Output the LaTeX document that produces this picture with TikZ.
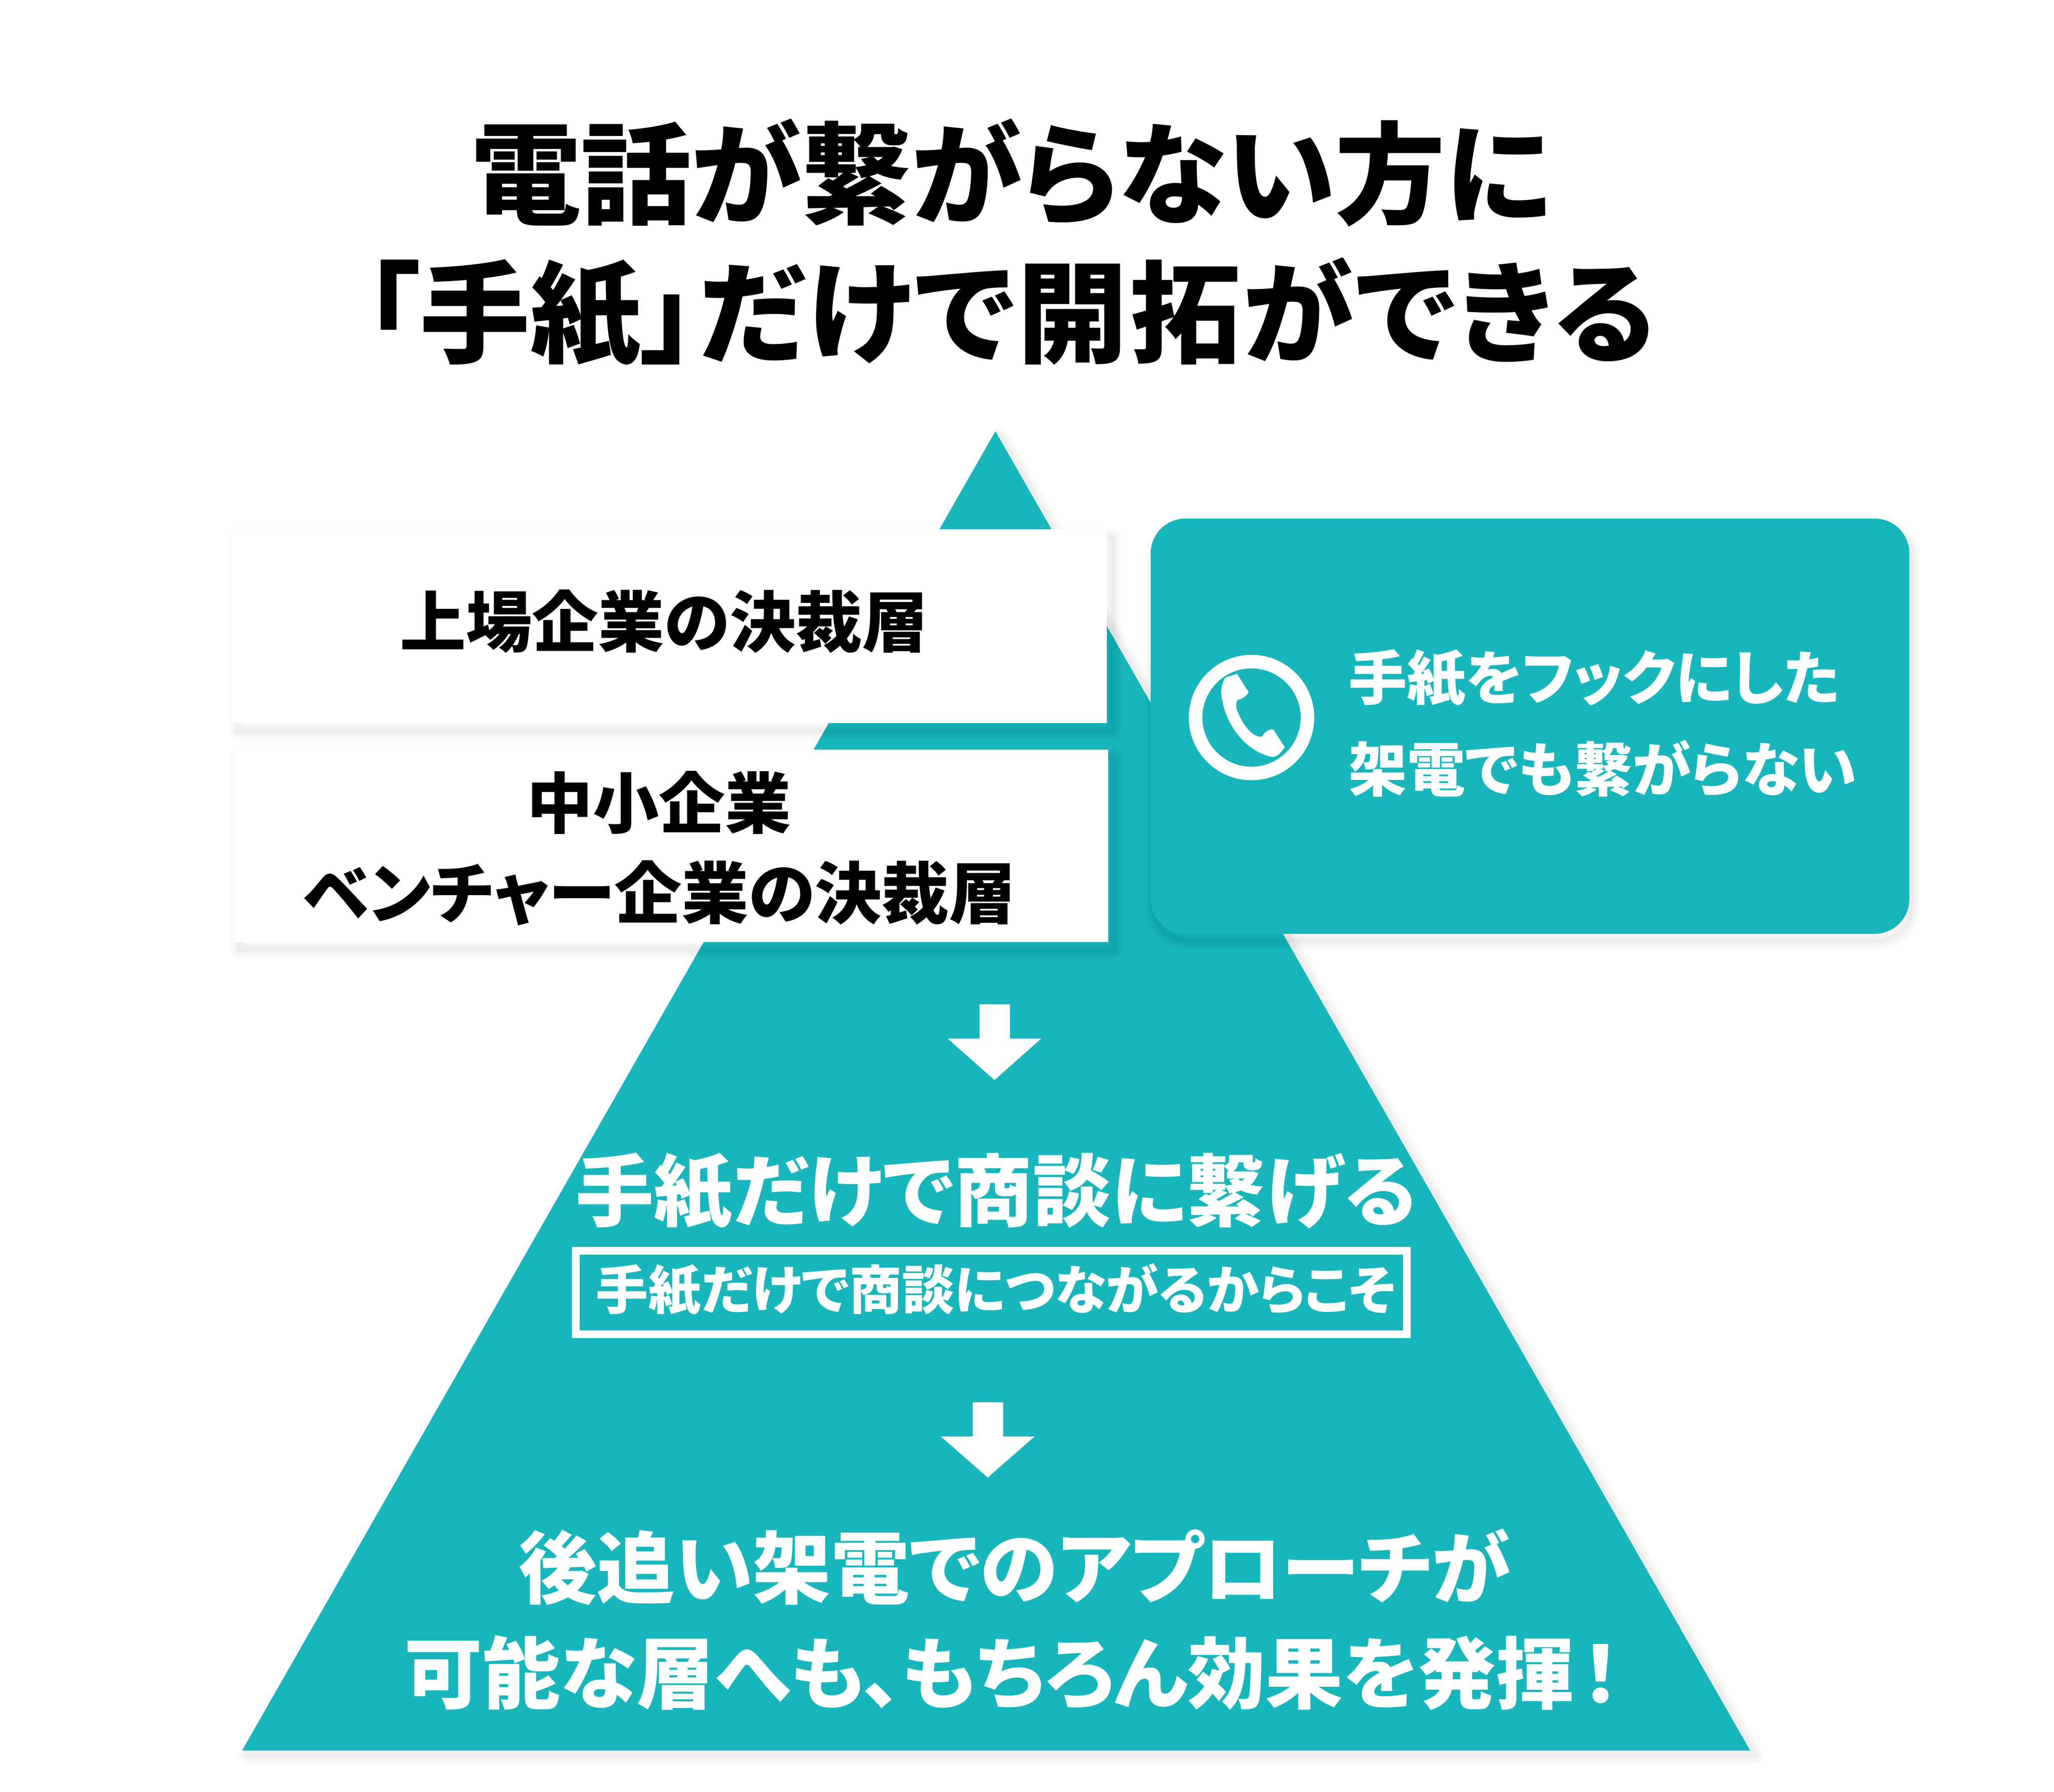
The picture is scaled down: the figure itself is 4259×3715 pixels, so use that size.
\documentclass[tikz,border=0pt]{standalone}
\usepackage{fontspec}
\newfontfamily\jpb[RawFeature=+palt]{Noto Sans CJK JP Black}
\definecolor{teal1}{HTML}{18B6BB}
\newcommand{\fs}[1]{\fontsize{#1pt}{#1pt}\selectfont}
\tikzset{
  txt/.style={inner sep=0pt,font=\jpb,text=black,anchor=center},
  wtxt/.style={txt,text=white},
  teal shape/.style={fill=teal1,draw=none},
  white shape/.style={fill=white,draw=none},
  glow/.style={draw=black,draw opacity=0.009,line join=round,fill=none},
}
\newcommand{\softshadow}[2]{%
  \begin{scope}[shift={(#1)}]
  \foreach \i in {2,6,...,38}{\draw[glow,line width=\i pt] #2;}
  \end{scope}}
\begin{document}
\begin{tikzpicture}[x=1pt,y=-1pt]
\useasboundingbox (0,0) rectangle (4259,3715);
\fill[white] (0,0) rectangle (4259,3715);
% pyramid
\softshadow{10,10}{(2064,894) -- (3629,3629) -- (502,3629) -- cycle}
\path[teal shape] (2064,894) -- (3629,3629) -- (502,3629) -- cycle;
% white boxes
\softshadow{12,16}{(481,1097) rectangle (2295,1499)}
\path[white shape] (481,1097) rectangle (2295,1499);
\softshadow{12,16}{(483,1554) rectangle (2298,1953)}
\path[white shape] (483,1554) rectangle (2298,1953);
% callout
\softshadow{6,14}{[rounded corners=72pt] (2386,1075) rectangle (3959,1936)}
\path[teal shape,rounded corners=72pt] (2386,1075) rectangle (3959,1936);
% phone
\draw[white,line width=28pt] (2595,1487.5) circle (116pt);
\fill[white] (2565,1397) -- (2589,1435)
  .. controls (2583,1445) and (2575,1449) .. (2566,1451)
  .. controls (2563,1453) and (2563,1460) .. (2564,1470)
  .. controls (2575,1500) and (2595,1527) .. (2613,1527)
  -- (2617,1527)
  .. controls (2622,1517) and (2630,1512) .. (2640,1512)
  -- (2664,1549)
  .. controls (2655,1562) and (2648,1569) .. (2637,1569)
  .. controls (2590,1560) and (2540,1510) .. (2532,1437)
  .. controls (2532,1425) and (2536,1409) .. (2542,1404) -- cycle;
% arrows
\fill[white] (2031,2082) -- (2094,2082) -- (2094,2153) -- (2159,2153) -- (2062,2239) -- (1965,2153) -- (2031,2153) -- cycle;
\fill[white] (2017,2907) -- (2080,2907) -- (2080,2978) -- (2145,2978) -- (2048,3063) -- (1951,2978) -- (2017,2978) -- cycle;
% frame
\draw[white,line width=16pt] (1194,2593) rectangle (2917,2766);
% text
\node[txt] (t1) at (2097,358) {\fs{228.6}電話が繋がらない方に};
\node[txt] (t2) at (2094,649) {\fs{229}「手紙」\hspace{4pt}{\addfontfeature{LetterSpace=2.1}だけで開拓ができる}};
\node[txt] (a) at (1377,1288) {\fs{137}上場企業の決裁層};
\node[txt] (b1) at (1366,1664) {\fs{137}中小企業};
\node[txt] (b2) at (1368,1851) {\fs{139}ベンチャー企業の決裁層};
\node[wtxt,anchor=west] (c1) at (2796,1406) {\fs{121.5}手紙をフックにした};
\node[wtxt,anchor=west] (c2) at (2796,1593) {\fs{121}架電でも繋がらない};
\node[wtxt] (d) at (2065,2470) {\fs{162.6}手紙だけで商談に繋げる};
\node[wtxt] (e) at (2065,2674) {\fs{108.8}手紙だけで商談につながるからこそ};
\node[wtxt] (f1) at (2103,3248) {\fs{162.4}後追い架電でのアプローチが};
\node[wtxt] (f2) at (2099,3468) {\fs{161.6}可能な層へも、もちろん効果を発揮\hspace{15pt}！};
\end{tikzpicture}
\end{document}
